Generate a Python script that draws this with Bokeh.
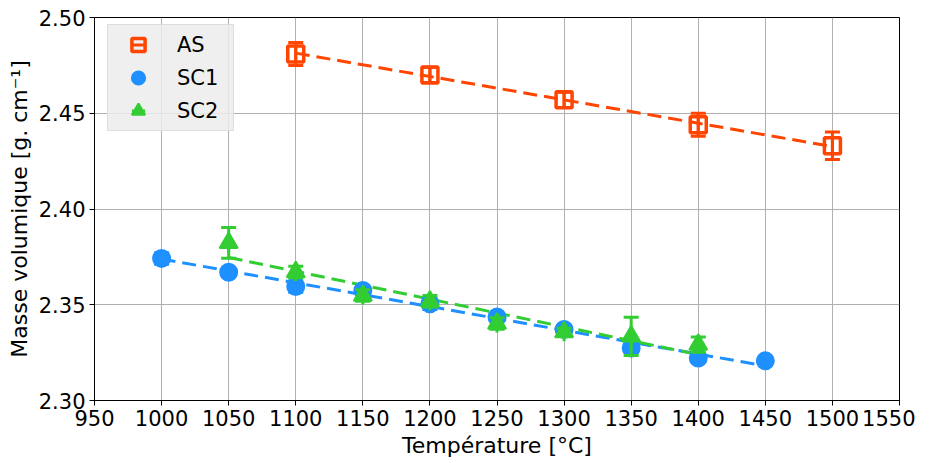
import numpy as np
from bokeh.plotting import figure
from bokeh.models import FixedTicker, NumeralTickFormatter, Legend, LegendItem
from bokeh.embed import file_html
from bokeh.resources import INLINE

# ---- data ----
temp_as = [1100, 1200, 1300, 1400, 1500]
rho_as = [2.481, 2.470, 2.457, 2.444, 2.433]
err_as = [0.006, 0.004, 0.004, 0.006, 0.0072]

temp_sc1 = [1000, 1050, 1100, 1150, 1200, 1250, 1300, 1350, 1400, 1450]
rho_sc1 = [2.3742, 2.3670, 2.3595, 2.3574, 2.3505, 2.3436, 2.3371, 2.3274, 2.3222, 2.3207]
err_sc1 = [0.003, 0.002, 0.003, 0.002, 0.003, 0.002, 0.002, 0.002, 0.002, 0.002]

temp_sc2 = [1050, 1100, 1150, 1200, 1250, 1300, 1350, 1400]
rho_sc2 = [2.3823, 2.3671, 2.3548, 2.3518, 2.3402, 2.3357, 2.3335, 2.3292]
err_sc2 = [0.008, 0.003, 0.003, 0.003, 0.003, 0.002, 0.010, 0.004]

labels = ["AS", "SC1", "SC2"]
colors = ["#ff4500", "#1e90ff", "#32cd32"]

x_ticks = list(range(950, 1551, 50))
y_ticks = [2.30, 2.35, 2.40, 2.45, 2.50]

FONT = "DejaVu Sans"

p = figure(frame_width=805, frame_height=383,
           x_range=(950, 1550), y_range=(2.30, 2.50),
           output_backend="svg", toolbar_location=None,
           min_border_left=94, min_border_right=16,
           min_border_top=17, min_border_bottom=47)

p.background_fill_color = "white"
p.border_fill_color = "white"
p.outline_line_color = "black"
p.outline_line_width = 1

for ax in (p.xaxis[0], p.yaxis[0]):
    ax.major_label_text_font = FONT
    ax.major_label_text_font_size = "21px"
    ax.major_label_text_color = "black"
    ax.axis_label_text_font = FONT
    ax.axis_label_text_font_size = "22px"
    ax.axis_label_text_font_style = "normal"
    ax.axis_label_text_color = "black"
    ax.axis_line_color = "black"
    ax.major_tick_line_color = "black"
    ax.major_tick_out = 5
    ax.major_tick_in = 0
    ax.minor_tick_line_color = None
    ax.major_label_standoff = 4
    ax.axis_label_standoff = 4

p.xaxis.ticker = FixedTicker(ticks=x_ticks)
p.yaxis.ticker = FixedTicker(ticks=y_ticks)
p.yaxis.formatter = NumeralTickFormatter(format="0.00")
p.xaxis.axis_label = "Température [°C]"
p.yaxis.axis_label = "Masse volumique [g. cm⁻¹]"

p.xgrid.ticker = FixedTicker(ticks=x_ticks)
p.ygrid.ticker = FixedTicker(ticks=y_ticks)
p.grid.grid_line_color = "#b0b0b0"
p.grid.grid_line_width = 1

series = [
    (temp_as, rho_as, err_as),
    (temp_sc1, rho_sc1, err_sc1),
    (temp_sc2, rho_sc2, err_sc2),
]

# fit lines (least squares on the data)
for (x, y, e), c in zip(series, colors):
    coef = np.polyfit(x, y, 1)
    xs = [min(x), max(x)]
    p.line(xs, list(np.polyval(coef, xs)), line_color=c, line_width=3, line_dash="14 7")

items = []
markers = ["square", "circle", "triangle"]
sizes = [16, 17, 18]
for (x, y, e), c, m, s, lab in zip(series, colors, markers, sizes, labels):
    x = np.array(x, dtype=float)
    y = np.array(y)
    e = np.array(e)
    p.segment(x0=x, y0=y - e, x1=x, y1=y + e, line_color=c, line_width=3)
    p.scatter(x, y + e, marker="dash", size=15, line_color=c, line_width=3)
    p.scatter(x, y - e, marker="dash", size=15, line_color=c, line_width=3)
    vr = p.scatter(x, y, marker="dash", angle=np.pi / 2, size=s, line_color=c, line_width=3)
    if m == "square":
        mr = p.scatter(x, y, marker=m, size=s, line_color=c, line_width=3.5, fill_alpha=0)
    else:
        mr = p.scatter(x, y, marker=m, size=s, line_color=c, line_width=2, fill_color=c)
    items.append(LegendItem(label=lab, renderers=[vr, mr]))

legend = Legend(items=items, location=(13, 269))
legend.margin = 0
legend.padding = 3
legend.spacing = 0
legend.glyph_height = 33
legend.label_height = 33
legend.glyph_width = 54
legend.label_standoff = 12
legend.label_width = 53
legend.label_text_font = FONT
legend.label_text_font_size = "21px"
legend.label_text_color = "black"
legend.background_fill_color = "#ececec"
legend.background_fill_alpha = 0.85
legend.border_line_color = "#cccccc"
legend.border_line_width = 1
p.add_layout(legend)

open("out.html", "w").write(file_html(p, INLINE))
